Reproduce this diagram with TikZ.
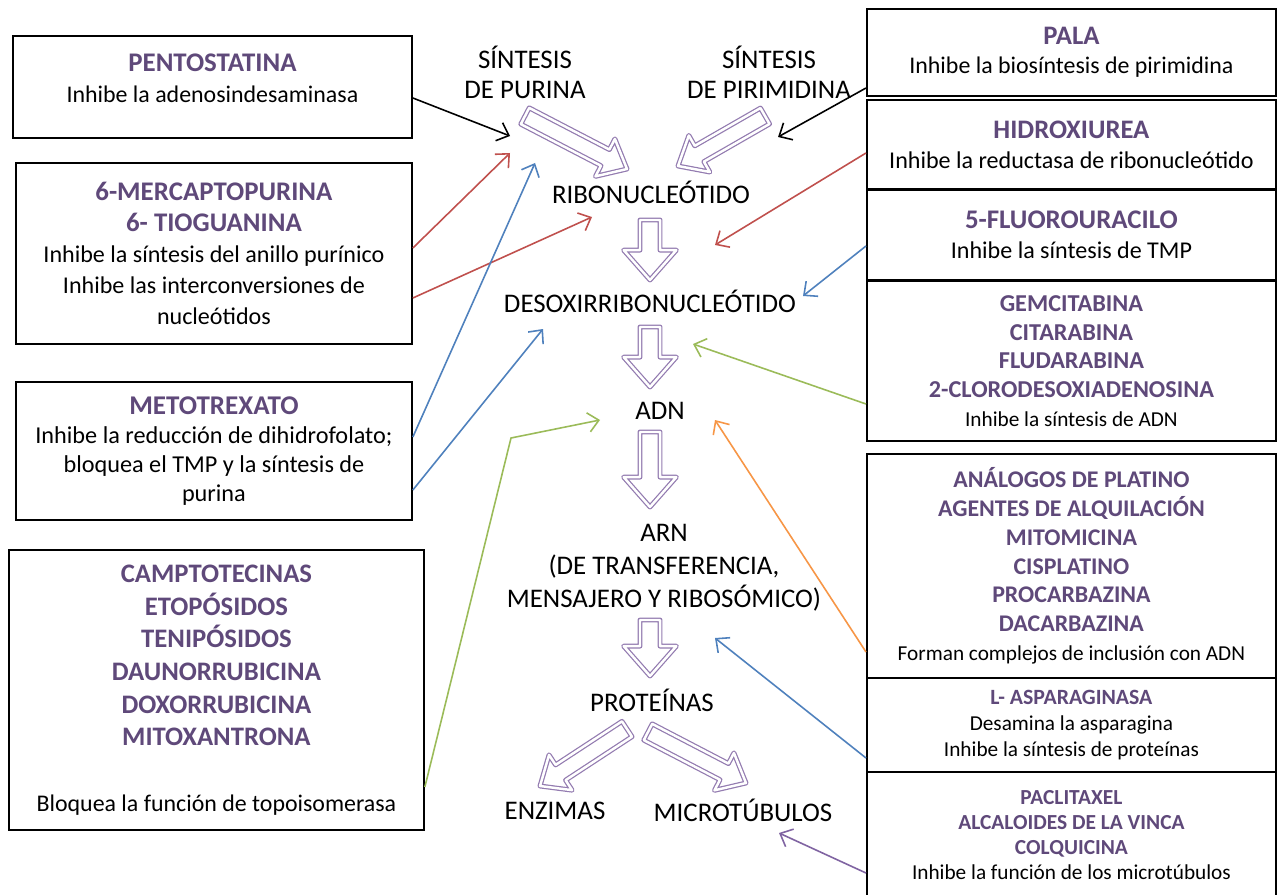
\documentclass[tikz,border=0pt]{standalone}
\usepackage{fontspec}
\setmainfont{Carlito}
\usepackage{tikz}
\usetikzlibrary{arrows.meta}
\usetikzlibrary{calc,positioning}

\definecolor{titulo}{RGB}{95,73,122}
\definecolor{morado}{RGB}{128,100,162}
\definecolor{rojo}{RGB}{192,80,77}
\definecolor{azul}{RGB}{79,129,189}
\definecolor{verde}{RGB}{155,187,89}
\definecolor{naranja}{RGB}{247,150,70}

\tikzset{
  caja/.style={draw, line width=1.1pt, inner sep=0pt, align=center, anchor=north west},
  etiqueta/.style={font=\fontsize{15.3}{18.7}\selectfont, align=center},
  flecha/.style={line width=0.9pt, -{Straight Barb[length=6pt,width=11pt]}},
  bloque/.style={draw=morado!85, line width=0.7pt, double=white, double distance=1.4pt, line join=round},
}
% titulo en negrita y morado
\newcommand{\tit}[2]{{\fontsize{#1}{#1}\selectfont\bfseries\color{titulo}#2}}
% flecha gruesa: inicio, punta, medio ancho del cuerpo, medio ancho de la punta, largo de la punta
\newcommand{\flechona}[5]{%
  \path ($(#2)!#5!(#1)$) coordinate (fm);
  \draw[bloque] ($(#1)!#3!90:(#2)$) -- ($(fm)!#3!90:(#2)$) -- ($(fm)!#4!90:(#2)$) -- (#2)
    -- ($(fm)!#4!-90:(#2)$) -- ($(fm)!#3!-90:(#2)$) -- ($(#1)!#3!-90:(#2)$) -- cycle;}

\begin{document}
\begin{tikzpicture}[x=0.02cm, y=-0.02cm]
\fill[white] (0,0) rectangle (1277,895);
\useasboundingbox (0,0) rectangle (1277,895);

% cajas de la izquierda
\node[caja, minimum width=7.98cm, minimum height=2.04cm, font=\fontsize{13.6}{17.6}\selectfont] (pento) at (12,35)
  {\tit{15.3}{PENTOSTATINA}\\ Inhibe la adenosindesaminasa\\[-8pt]\mbox{}};
\node[caja, minimum width=7.92cm, minimum height=3.62cm, font=\fontsize{13.7}{17.6}\selectfont] (mercapto) at (15,162)
  {\tit{15.3}{6-MERCAPTOPURINA}\\ \tit{15.3}{6- TIOGUANINA}\\ Inhibe la síntesis del anillo purínico\\
   Inhibe las interconversiones de\\ nucleótidos};
\node[caja, minimum width=7.92cm, minimum height=2.76cm, font=\fontsize{13.8}{16.4}\selectfont] (meto) at (15,381)
  {\tit{15.4}{METOTREXATO}\\ Inhibe la reducción de dihidrofolato;\\ bloquea el TMP y la síntesis de\\ purina};
\node[caja, minimum width=8.30cm, minimum height=5.60cm, font=\fontsize{13.6}{18.6}\selectfont] (campto) at (8,549)
  {\tit{15.2}{CAMPTOTECINAS}\\ \tit{15.2}{ETOPÓSIDOS}\\ \tit{15.2}{TENIPÓSIDOS}\\ \tit{15.2}{DAUNORRUBICINA}\\
   \tit{15.2}{DOXORRUBICINA}\\ \tit{15.2}{MITOXANTRONA}\\ \mbox{}\\ Bloquea la función de topoisomerasa};

% cajas de la derecha
\node[caja, minimum width=8.18cm, minimum height=1.74cm, font=\fontsize{13.6}{16.6}\selectfont] (pala) at (866,8)
  {\tit{15.2}{PALA}\\ Inhibe la biosíntesis de pirimidina};
\node[caja, minimum width=8.18cm, minimum height=1.78cm, font=\fontsize{13.7}{17}\selectfont] (hidroxi) at (866,99)
  {\tit{15.2}{HIDROXIUREA}\\ Inhibe la reductasa de ribonucleótido};
\node[caja, minimum width=8.18cm, minimum height=1.80cm, font=\fontsize{13.7}{17.4}\selectfont] (fluoro) at (866,189)
  {\tit{15.3}{5-FLUOROURACILO}\\ Inhibe la síntesis de TMP};
\node[caja, minimum width=8.18cm, minimum height=3.20cm, font=\fontsize{12.1}{16.4}\selectfont] (gemci) at (866,280)
  {\tit{13.8}{GEMCITABINA}\\ \tit{13.8}{CITARABINA}\\ \tit{13.8}{FLUDARABINA}\\ \tit{13.8}{2-CLORODESOXIADENOSINA}\\
   Inhibe la síntesis de ADN};
\node[caja, minimum width=8.18cm, minimum height=4.48cm, font=\fontsize{12.1}{16.4}\selectfont] (platino) at (866,453)
  {\tit{13.6}{ANÁLOGOS DE PLATINO}\\ \tit{13.6}{AGENTES DE ALQUILACIÓN}\\ \tit{13.6}{MITOMICINA}\\
   \tit{13.6}{CISPLATINO}\\ \tit{13.6}{PROCARBAZINA}\\ \tit{13.6}{DACARBAZINA}\\ Forman complejos de inclusión con ADN};
\node[caja, minimum width=8.18cm, minimum height=1.88cm, font=\fontsize{12.1}{14.7}\selectfont] (aspar) at (866,677)
  {\tit{12.4}{L- ASPARAGINASA}\\ Desamina la asparagina\\ Inhibe la síntesis de proteínas};
\node[caja, minimum width=8.18cm, minimum height=2.52cm, font=\fontsize{12.1}{14.2}\selectfont] (pacli) at (866,771)
  {\tit{12.2}{PACLITAXEL}\\ \tit{12.2}{ALCALOIDES DE LA VINCA}\\ \tit{12.2}{COLQUICINA}\\
   Inhibe la función de los microtúbulos};

% ruta central
\node[etiqueta, font=\fontsize{15.3}{17}\selectfont] (sintpur) at (525,72) {SÍNTESIS\\ DE PURINA};
\node[etiqueta, font=\fontsize{15.3}{17}\selectfont] (sintpir) at (769,72) {SÍNTESIS\\ DE PIRIMIDINA};
\node[etiqueta] (ribo) at (651,192) {RIBONUCLEÓTIDO};
\node[etiqueta] (desoxi) at (650,301) {DESOXIRRIBONUCLEÓTIDO};
\node[etiqueta] (adn) at (660,411) {ADN};
\node[etiqueta] (arn) at (664,568) {ARN\\ (DE TRANSFERENCIA,\\ MENSAJERO Y RIBOSÓMICO)};
\node[etiqueta] (prot) at (652,700) {PROTEÍNAS};
\node[etiqueta] (enzimas) at (555,811) {ENZIMAS};
\node[etiqueta] (microt) at (743,810) {MICROTÚBULOS};

% flechas gruesas
\coordinate (a1) at (525,116); \coordinate (b1) at (627,169);
\coordinate (a2) at (765,116); \coordinate (b2) at (678,166);
\coordinate (a3) at (650,220); \coordinate (b3) at (650,280);
\coordinate (a4) at (650,327); \coordinate (b4) at (650,387);
\coordinate (a5) at (650,432); \coordinate (b5) at (650,507);
\coordinate (a6) at (650,620); \coordinate (b6) at (650,676);
\coordinate (a7) at (627,729); \coordinate (b7) at (540,786);
\coordinate (a8) at (648,732); \coordinate (b8) at (746,783);
\flechona{a1}{b1}{5.2pt}{12pt}{14pt}
\flechona{a2}{b2}{5.2pt}{12pt}{14pt}
\flechona{a3}{b3}{5.7pt}{15pt}{17pt}
\flechona{a4}{b4}{5.7pt}{15pt}{17pt}
\flechona{a5}{b5}{5.7pt}{15pt}{17pt}
\flechona{a6}{b6}{5.7pt}{15pt}{17pt}
\flechona{a7}{b7}{5.2pt}{12pt}{14pt}
\flechona{a8}{b8}{5.2pt}{12pt}{14pt}

% puntas de los conectores
\coordinate (pPento) at (510,136);
\coordinate (pPala) at (778,137);
\coordinate (pMerc1) at (510,153);
\coordinate (pMerc2) at (592,217);
\coordinate (pMeto1) at (535,163);
\coordinate (pMeto2) at (543,329);
\coordinate (quiebre) at (511,438);
\coordinate (pCampto) at (600,420);
\coordinate (pHidro) at (715,245);
\coordinate (pFluoro) at (803,296);
\coordinate (pGemci) at (693,344);
\coordinate (pPlatino) at (715,420);
\coordinate (pAspar) at (715,638);
\coordinate (pPacli) at (779,833);

\draw[flecha] (pento.east |- 0,98) -- (pPento);
\draw[flecha] (pala.west |- 0,88) -- (pPala);
\draw[flecha, rojo] (mercapto.east |- 0,248) -- (pMerc1);
\draw[flecha, rojo] (mercapto.east |- 0,298) -- (pMerc2);
\draw[flecha, azul] (meto.east |- 0,437) -- (pMeto1);
\draw[flecha, azul] (meto.east |- 0,490) -- (pMeto2);
\draw[flecha, verde] (campto.east |- 0,787) -- (quiebre) -- (pCampto);
\draw[flecha, rojo] (hidroxi.west |- 0,153) -- (pHidro);
\draw[flecha, azul] (fluoro.west |- 0,246) -- (pFluoro);
\draw[flecha, verde] (gemci.west |- 0,404) -- (pGemci);
\draw[flecha, naranja] (platino.west |- 0,652) -- (pPlatino);
\draw[flecha, azul] (aspar.west |- 0,758) -- (pAspar);
\draw[flecha, morado] (pacli.west |- 0,873) -- (pPacli);
\end{tikzpicture}
\end{document}
